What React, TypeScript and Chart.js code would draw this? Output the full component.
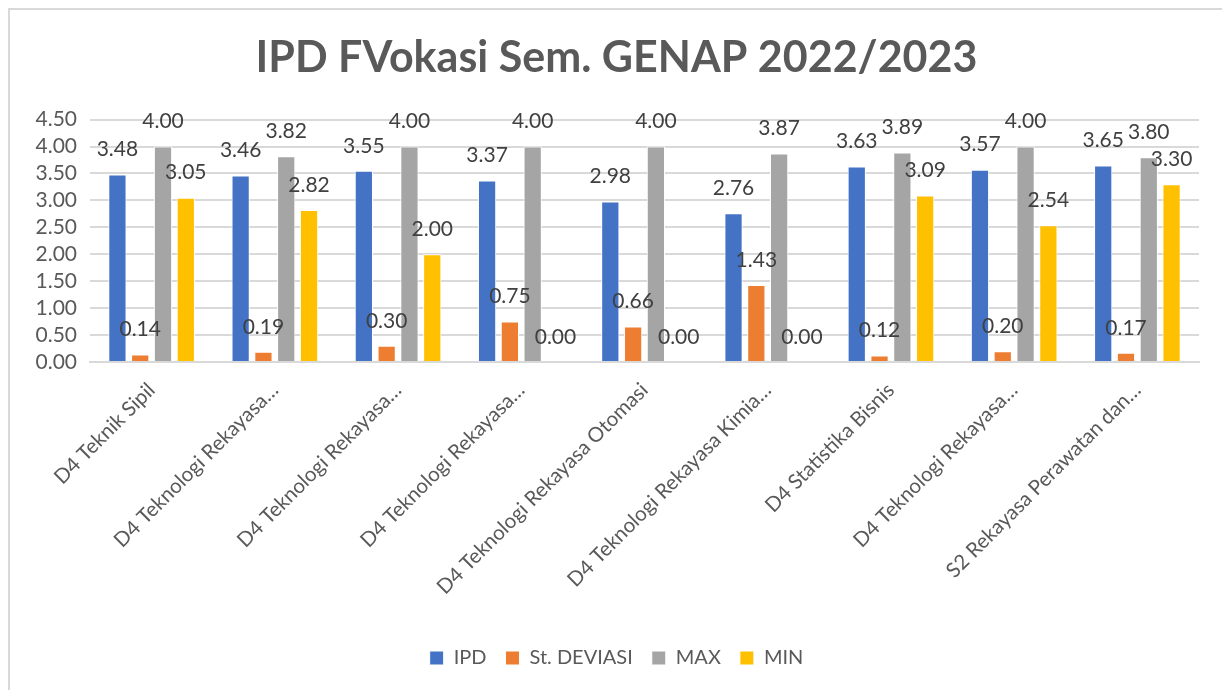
import React, { useEffect, useRef } from "react";
import { Chart, registerables } from "chart.js";

Chart.register(...registerables);

const categories = [
  "D4 Teknik Sipil",
  "D4 Teknologi Rekayasa…",
  "D4 Teknologi Rekayasa…",
  "D4 Teknologi Rekayasa…",
  "D4 Teknologi Rekayasa Otomasi",
  "D4 Teknologi Rekayasa Kimia…",
  "D4 Statistika Bisnis",
  "D4 Teknologi Rekayasa…",
  "S2 Rekayasa Perawatan dan…",
];
const ipd = [3.48, 3.46, 3.55, 3.37, 2.98, 2.76, 3.63, 3.57, 3.65];
const stDeviasi = [0.14, 0.19, 0.3, 0.75, 0.66, 1.43, 0.12, 0.2, 0.17];
const maxValues = [4.0, 3.82, 4.0, 4.0, 4.0, 3.87, 3.89, 4.0, 3.8];
const minValues = [3.05, 2.82, 2.0, 0.0, 0.0, 0.0, 3.09, 2.54, 3.3];
const yTicks = [0, 0.5, 1.0, 1.5, 2.0, 2.5, 3.0, 3.5, 4.0, 4.5];
const seriesNames = ["IPD", "St. DEVIASI", "MAX", "MIN"];
const seriesColors = ["#4472C4", "#ED7D31", "#A5A5A5", "#FFC000"];
const titleText = "IPD FVokasi Sem. GENAP 2022/2023";

const FONT = "Lato, 'Open Sans', sans-serif";

const labelPlugin = {
  id: "barLabels",
  afterDatasetsDraw(chart: any) {
    const ctx = chart.ctx;
    ctx.save();
    ctx.font = `21px ${FONT}`;
    ctx.fillStyle = "#404040";
    ctx.textAlign = "center";
    ctx.textBaseline = "middle";
    chart.data.datasets.forEach((ds: any, di: number) => {
      const meta = chart.getDatasetMeta(di);
      meta.data.forEach((bar: any, i: number) => {
        const v = ds.data[i];
        ctx.fillText(Number(v).toFixed(2), bar.x, bar.y - 25);
      });
    });
    ctx.restore();
  },
};

export default function App() {
  const ref = useRef<HTMLCanvasElement>(null);
  useEffect(() => {
    if (!ref.current) return;
    const data = [ipd, stDeviasi, maxValues, minValues];
    const chart = new Chart(ref.current, {
      type: "bar",
      data: {
        labels: categories,
        datasets: data.map((d, i) => ({
          label: seriesNames[i],
          data: d,
          backgroundColor: seriesColors[i],
          borderColor: "#ffffff",
          borderWidth: 1,
          categoryPercentage: 0.74,
          barPercentage: 0.8,
        })),
      },
      options: {
        animation: false,
        responsive: false,
        maintainAspectRatio: false,
        layout: { padding: { left: 24, right: 27, top: 0, bottom: 22 } },
        plugins: {
          title: {
            display: true,
            text: titleText,
            color: "#595959",
            font: { family: FONT, size: 43, weight: "bold" },
            padding: { top: 22, bottom: 36 },
          },
          legend: {
            position: "bottom",
            labels: {
              color: "#595959",
              font: { family: FONT, size: 20 },
              boxWidth: 14,
              boxHeight: 14,
              padding: 19,
            },
          },
          tooltip: { enabled: false },
        },
        scales: {
          x: {
            grid: { display: false },
            border: { color: "#d9d9d9", width: 2 },
            ticks: {
              color: "#595959",
              font: { family: FONT, size: 20.5 },
              maxRotation: 45,
              minRotation: 45,
              autoSkip: false,
              padding: 8,
            },
            afterFit: (scale: any) => {
              scale.height = 267;
            },
          },
          y: {
            min: 0,
            max: 4.5,
            afterBuildTicks: (scale: any) => {
              scale.ticks = yTicks.map((v) => ({ value: v }));
            },
            ticks: {
              autoSkip: false,
              color: "#595959",
              font: { family: FONT, size: 21 },
              padding: 13,
              callback: (v: any) => Number(v).toFixed(2),
            },
            grid: { color: "#d9d9d9", lineWidth: 2, drawTicks: false },
            border: { display: false },
            afterFit: (scale: any) => {
              scale.width = 56;
            },
          },
        },
      },
      plugins: [labelPlugin],
    });
    return () => chart.destroy();
  }, []);
  return (
    <div
      style={{
        width: 1216,
        height: 690,
        border: "2px solid #d9d9d9",
        background: "#fff",
        boxSizing: "content-box",
      }}
    >
      <canvas ref={ref} width={1216} height={690} style={{ display: "block" }} />
    </div>
  );
}
